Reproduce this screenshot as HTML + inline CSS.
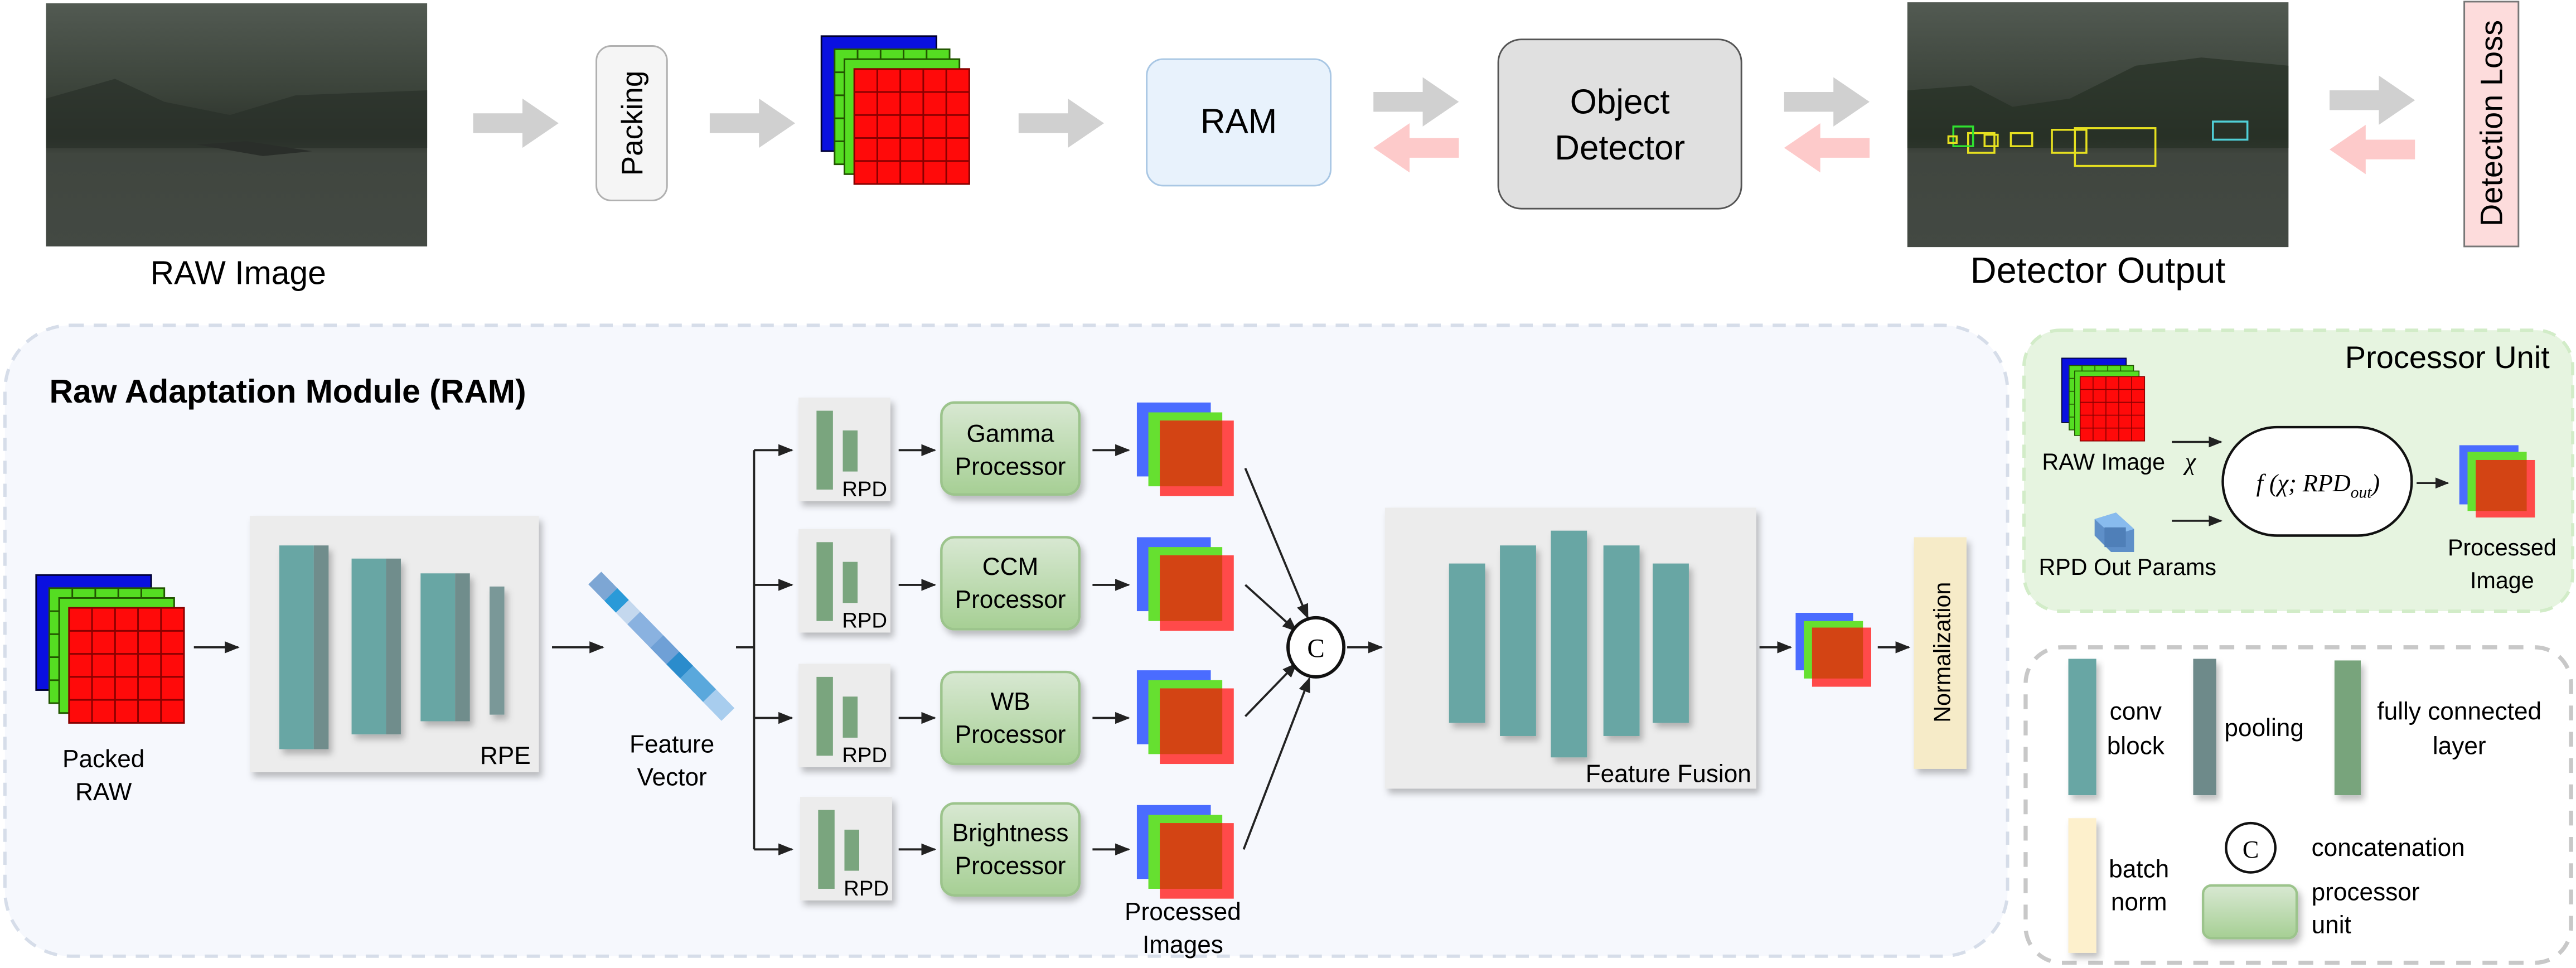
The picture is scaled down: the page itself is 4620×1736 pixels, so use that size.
<!DOCTYPE html>
<html><head><meta charset="utf-8"><style>html,body{margin:0;padding:0;background:#fff}svg{display:block}</style></head>
<body>
<svg xmlns="http://www.w3.org/2000/svg" width="4620" height="1736" viewBox="0 0 1568 589.2" font-family="Liberation Sans, sans-serif">
<defs>
<filter id="sh" x="-20%" y="-20%" width="150%" height="150%"><feDropShadow dx="2" dy="3" stdDeviation="2" flood-color="#000" flood-opacity="0.25"/></filter>
<linearGradient id="pg" x1="0" y1="0" x2="0" y2="1"><stop offset="0" stop-color="#d8e8d2"/><stop offset="1" stop-color="#a6cf94"/></linearGradient>
<linearGradient id="ph" x1="0" y1="0" x2="0" y2="1"><stop offset="0" stop-color="#525a52"/><stop offset="0.35" stop-color="#3c443b"/><stop offset="0.55" stop-color="#2c322b"/><stop offset="0.62" stop-color="#40463f"/><stop offset="1" stop-color="#434943"/></linearGradient>
<marker id="ah" viewBox="0 0 10 10" refX="9" refY="5" markerWidth="7" markerHeight="7" orient="auto"><path d="M0,1 L10,5 L0,9 z" fill="#222"/></marker>
<g id="stack">
<rect x="0" y="0" width="70" height="70" fill="#0a10e0" stroke="#000033" stroke-width="1"/>
<rect x="8" y="8" width="70" height="70" fill="#55dd22" stroke="#225500" stroke-width="1"/>
<rect x="14" y="14" width="70" height="70" fill="#55dd22" stroke="#225500" stroke-width="1"/>
<rect x="20" y="20" width="70" height="70" fill="#ff0a0a" stroke="#880000" stroke-width="1"/>
<path d="M34,20V90M48,20V90M62,20V90M76,20V90M20,34H90M20,48H90M20,62H90M20,76H90" stroke="#8a0000" stroke-width="1"/>
<path d="M8,22H14M8,36H14M8,50H14M8,64H14M22,8V14M36,8V14M50,8V14M64,8V14" stroke="#225500" stroke-width="1"/>
</g>
<g id="proc">
<rect x="0" y="0" width="45" height="45" fill="#4a6cff"/>
<rect x="7" y="6" width="45" height="45" fill="#66e030"/>
<rect x="14" y="11" width="45" height="46" fill="#ff4a4a"/>
<rect x="14" y="11" width="38" height="40" fill="#d34414"/>
</g>
<g id="rpd">
<rect x="0" y="0" width="56" height="63" fill="#ececec" filter="url(#sh)"/>
<rect x="11" y="8" width="10" height="48" fill="#7aa57e"/>
<rect x="27" y="20" width="9" height="25" fill="#7aa57e"/>
<text x="54" y="60" font-size="13" text-anchor="end">RPD</text>
</g>
<g id="garr"><path d="M0,-6H30V-15L52,0L30,15V6H0z" fill="#d0d0d0"/></g>
<g id="parr"><path d="M52,-6H22V-15L0,0L22,15V6H52z" fill="#fdcaca"/></g>
</defs>

<!-- TOP ROW -->
<rect x="28" y="2" width="232" height="148" fill="url(#ph)"/>
<path d="M28,60 L70,48 L100,62 L140,70 L180,58 L260,55 L260,90 L28,90z" fill="#2a312a" opacity="0.7"/>
<path d="M120,88 L150,86 L190,92 L160,95z" fill="#2a2e2a"/>
<text x="145" y="173" font-size="20" text-anchor="middle">RAW Image</text>
<use href="#garr" x="288" y="75"/>
<rect x="363" y="28" width="43" height="94" rx="9" fill="#f5f5f5" stroke="#b0b0b0"/>
<text transform="translate(391,75) rotate(-90)" font-size="18" text-anchor="middle">Packing</text>
<use href="#garr" x="432" y="75"/>
<use href="#stack" x="500" y="22"/>
<use href="#garr" x="620" y="75"/>
<rect x="698" y="36" width="112" height="77" rx="10" fill="#e8f2fc" stroke="#a9c7e4"/>
<text x="754" y="81" font-size="21" text-anchor="middle">RAM</text>
<use href="#garr" x="836" y="62"/>
<use href="#parr" x="836" y="90"/>
<rect x="912" y="24" width="148" height="103" rx="14" fill="#e0e0e0" stroke="#555"/>
<text x="986" y="69" font-size="21" text-anchor="middle">Object</text>
<text x="986" y="97" font-size="21" text-anchor="middle">Detector</text>
<use href="#garr" x="1086" y="62"/>
<use href="#parr" x="1086" y="90"/>
<rect x="1161" y="1.4" width="232" height="149" fill="url(#ph)"/>
<path d="M1161,55 L1200,52 L1225,65 L1260,60 L1300,40 L1340,35 L1393,40 L1393,90 L1161,90z" fill="#263025" opacity="0.7"/>
<g fill="none" stroke-width="1.2">
<rect x="1263" y="78" width="49" height="23" stroke="#e6e020"/>
<rect x="1249" y="79" width="21" height="14" stroke="#e6e020"/>
<rect x="1224" y="81" width="13" height="8" stroke="#e6e020"/>
<rect x="1198" y="81" width="16" height="12" stroke="#e6e020"/>
<rect x="1208" y="82" width="8" height="7" stroke="#e6e020"/>
<rect x="1189" y="77" width="12" height="12" stroke="#30e030"/>
<rect x="1186" y="83" width="5" height="4" stroke="#e6e020"/>
<rect x="1347" y="74" width="21" height="11" stroke="#50d0d8"/>
</g>
<text x="1277" y="172" font-size="22" text-anchor="middle">Detector Output</text>
<use href="#garr" x="1418" y="61"/>
<use href="#parr" x="1418" y="91"/>
<rect x="1500" y="1" width="33" height="149" fill="#fddcdc" stroke="#777"/>
<text transform="translate(1523,75) rotate(-90)" font-size="19" text-anchor="middle">Detection Loss</text>

<!-- RAM PANEL -->
<rect x="3" y="198" width="1219" height="384" rx="40" fill="#f6f8fd" stroke="#d6dde9" stroke-width="2" stroke-dasharray="8,6"/>
<text x="30" y="245" font-size="20" font-weight="bold">Raw Adaptation Module (RAM)</text>
<use href="#stack" x="22" y="350"/>
<text x="63" y="467" font-size="15" text-anchor="middle">Packed</text>
<text x="63" y="487" font-size="15" text-anchor="middle">RAW</text>
<line x1="118" y1="394" x2="145" y2="394" stroke="#222" stroke-width="1.3" marker-end="url(#ah)"/>
<rect x="152" y="314" width="176" height="156" fill="#ececec" filter="url(#sh)"/>
<g filter="url(#sh)">
<rect x="170" y="332" width="21" height="124" fill="#68a6a4"/><rect x="191" y="332" width="9" height="124" fill="#6f8d8c"/>
<rect x="214" y="340" width="21" height="107" fill="#68a6a4"/><rect x="235" y="340" width="9" height="107" fill="#6f8d8c"/>
<rect x="256" y="349" width="21" height="90" fill="#68a6a4"/><rect x="277" y="349" width="9" height="90" fill="#6f8d8c"/>
<rect x="298" y="357" width="9" height="78" fill="#7a9898"/>
</g>
<text x="323" y="465" font-size="15" text-anchor="end">RPE</text>
<line x1="336" y1="394" x2="367" y2="394" stroke="#222" stroke-width="1.3" marker-end="url(#ah)"/>
<g transform="translate(366,348) rotate(45.7)">
<rect x="0" y="0" width="116" height="11" fill="#9cc0e6"/>
<rect x="0" y="0" width="14" height="11" fill="#7da6d4"/>
<rect x="14" y="0" width="10" height="11" fill="#2a9ad8"/>
<rect x="24" y="0" width="10" height="11" fill="#c4d8ee"/>
<rect x="34" y="0" width="20" height="11" fill="#8ab2e0"/>
<rect x="54" y="0" width="14" height="11" fill="#6fa0d6"/>
<rect x="68" y="0" width="12" height="11" fill="#2b8ccc"/>
<rect x="80" y="0" width="20" height="11" fill="#5aa8dc"/>
<rect x="100" y="0" width="16" height="11" fill="#a8cdee"/>
</g>
<text x="409" y="458" font-size="15" text-anchor="middle">Feature</text>
<text x="409" y="478" font-size="15" text-anchor="middle">Vector</text>
<path d="M448,394H459M459,274V517" stroke="#222" stroke-width="1.3" fill="none"/>
<g stroke="#222" stroke-width="1.3" marker-end="url(#ah)">
<line x1="459" y1="274" x2="482" y2="274"/><line x1="459" y1="356" x2="482" y2="356"/>
<line x1="459" y1="437" x2="482" y2="437"/><line x1="459" y1="517" x2="482" y2="517"/>
<line x1="547" y1="274" x2="569" y2="274"/><line x1="547" y1="356" x2="569" y2="356"/>
<line x1="547" y1="437" x2="569" y2="437"/><line x1="547" y1="517" x2="569" y2="517"/>
<line x1="665" y1="274" x2="687" y2="274"/><line x1="665" y1="356" x2="687" y2="356"/>
<line x1="665" y1="437" x2="687" y2="437"/><line x1="665" y1="517" x2="687" y2="517"/>
<line x1="758" y1="285" x2="796" y2="376"/><line x1="758" y1="356" x2="789" y2="384"/>
<line x1="758" y1="436" x2="789" y2="404"/><line x1="757" y1="517" x2="797" y2="413"/>
<line x1="820" y1="394" x2="841" y2="394"/>
<line x1="1071" y1="394" x2="1090" y2="394"/>
<line x1="1143" y1="394" x2="1162" y2="394"/>
</g>
<use href="#rpd" x="486" y="242"/><use href="#rpd" x="486" y="322"/>
<use href="#rpd" x="486" y="404"/><use href="#rpd" x="487" y="485"/>
<g filter="url(#sh)" stroke="#9cc48c" stroke-width="1.5" fill="url(#pg)">
<rect x="573" y="245" width="84" height="56" rx="8"/><rect x="573" y="327" width="84" height="56" rx="8"/>
<rect x="573" y="409" width="84" height="56" rx="8"/><rect x="573" y="489" width="84" height="56" rx="8"/>
</g>
<g font-size="15" text-anchor="middle">
<text x="615" y="269">Gamma</text><text x="615" y="289">Processor</text>
<text x="615" y="350">CCM</text><text x="615" y="370">Processor</text>
<text x="615" y="432">WB</text><text x="615" y="452">Processor</text>
<text x="615" y="512">Brightness</text><text x="615" y="532">Processor</text>
<text x="720" y="560">Processed</text><text x="720" y="580">Images</text>
</g>
<use href="#proc" x="692" y="245"/><use href="#proc" x="692" y="327"/>
<use href="#proc" x="692" y="408"/><use href="#proc" x="692" y="490"/>
<ellipse cx="801" cy="394" rx="17" ry="18" fill="#fff" stroke="#111" stroke-width="2"/>
<text x="801" y="400" font-size="16" text-anchor="middle" font-family="Liberation Serif, serif">C</text>
<rect x="843" y="309" width="226" height="171" fill="#ececec" filter="url(#sh)"/>
<g fill="#68a6a4" filter="url(#sh)">
<rect x="882" y="343" width="22" height="97"/><rect x="913" y="332" width="22" height="116"/>
<rect x="944" y="323" width="22" height="138"/><rect x="976" y="332" width="22" height="116"/>
<rect x="1006" y="343" width="22" height="97"/>
</g>
<text x="1066" y="476" font-size="15" text-anchor="end">Feature Fusion</text>
<rect x="1093" y="373" width="35" height="35" fill="#4a6cff"/>
<rect x="1098" y="378" width="36" height="35" fill="#66e030"/>
<rect x="1103" y="382" width="36" height="36" fill="#ff4a4a"/>
<rect x="1103" y="382" width="31" height="31" fill="#d34414"/>
<rect x="1165" y="327" width="32" height="141" fill="#f6ebc8" filter="url(#sh)"/>
<text transform="translate(1187,397) rotate(-90)" font-size="14" text-anchor="middle">Normalization</text>

<!-- PROCESSOR UNIT PANEL -->
<rect x="1232" y="201" width="334" height="171" rx="22" fill="#e6f4e0" stroke="#d2ecc8" stroke-width="2" stroke-dasharray="8,6"/>
<text x="1552" y="224" font-size="19" text-anchor="end">Processor Unit</text>
<use href="#stack" transform="translate(1255,218) scale(0.56)"/>
<text x="1243" y="286" font-size="14">RAW Image</text>
<text x="1330" y="286" font-size="15" font-style="italic" font-family="Liberation Serif, serif">χ</text>
<g stroke="#222" stroke-width="1.2" marker-end="url(#ah)">
<line x1="1322" y1="269" x2="1352" y2="269"/><line x1="1322" y1="317" x2="1352" y2="317"/>
<line x1="1471" y1="294" x2="1490" y2="294"/>
</g>
<rect x="1353" y="260" width="115" height="66" rx="33" fill="#fff" stroke="#111" stroke-width="1.5"/>
<text x="1411" y="299" font-size="15" text-anchor="middle" font-family="Liberation Serif, serif" font-style="italic">f (χ; RPD<tspan font-size="10" dy="4">out</tspan><tspan dy="-4">)</tspan></text>
<path d="M1275,316 L1288,312 L1299,322 L1299,336 L1285,336 L1275,326z" fill="#5e8fc8"/>
<path d="M1275,316 L1288,312 L1299,322 L1286,326z" fill="#88bbee"/>
<rect x="1281" y="321" width="13" height="12" fill="#4f7fb8"/>
<text x="1241" y="350" font-size="14">RPD Out Params</text>
<rect x="1497" y="271" width="36" height="36" fill="#4a6cff"/>
<rect x="1502" y="275" width="36" height="36" fill="#66e030"/>
<rect x="1507" y="280" width="36" height="35" fill="#ff4a4a"/>
<rect x="1507" y="280" width="31" height="31" fill="#d34414"/>
<text x="1523" y="338" font-size="14" text-anchor="middle">Processed</text>
<text x="1523" y="358" font-size="14" text-anchor="middle">Image</text>

<!-- LEGEND -->
<rect x="1233" y="394" width="332" height="192" rx="22" fill="#fff" stroke="#c8c8c8" stroke-width="2.5" stroke-dasharray="9,7"/>
<rect x="1259" y="401" width="17" height="83" fill="#68a6a4" filter="url(#sh)"/>
<rect x="1335" y="401" width="14" height="83" fill="#6e8a8a" filter="url(#sh)"/>
<rect x="1421" y="402" width="16" height="82" fill="#78a47c" filter="url(#sh)"/>
<rect x="1259" y="498" width="17" height="82" fill="#fdf0cc" filter="url(#sh)"/>
<g font-size="15">
<text x="1300" y="438" text-anchor="middle">conv</text><text x="1300" y="459" text-anchor="middle">block</text>
<text x="1354" y="448">pooling</text>
<text x="1497" y="438" text-anchor="middle">fully connected</text><text x="1497" y="459" text-anchor="middle">layer</text>
<text x="1302" y="534" text-anchor="middle">batch</text><text x="1302" y="554" text-anchor="middle">norm</text>
<text x="1407" y="521">concatenation</text>
<text x="1407" y="548">processor</text><text x="1407" y="568">unit</text>
</g>
<ellipse cx="1370" cy="516" rx="15" ry="15" fill="#fff" stroke="#111" stroke-width="1.5"/>
<text x="1370" y="522" font-size="15" text-anchor="middle" font-family="Liberation Serif, serif">C</text>
<rect x="1341" y="539" width="57" height="32" rx="5" fill="url(#pg)" stroke="#9cc48c" stroke-width="1.5" filter="url(#sh)"/>
</svg>
</body></html>
